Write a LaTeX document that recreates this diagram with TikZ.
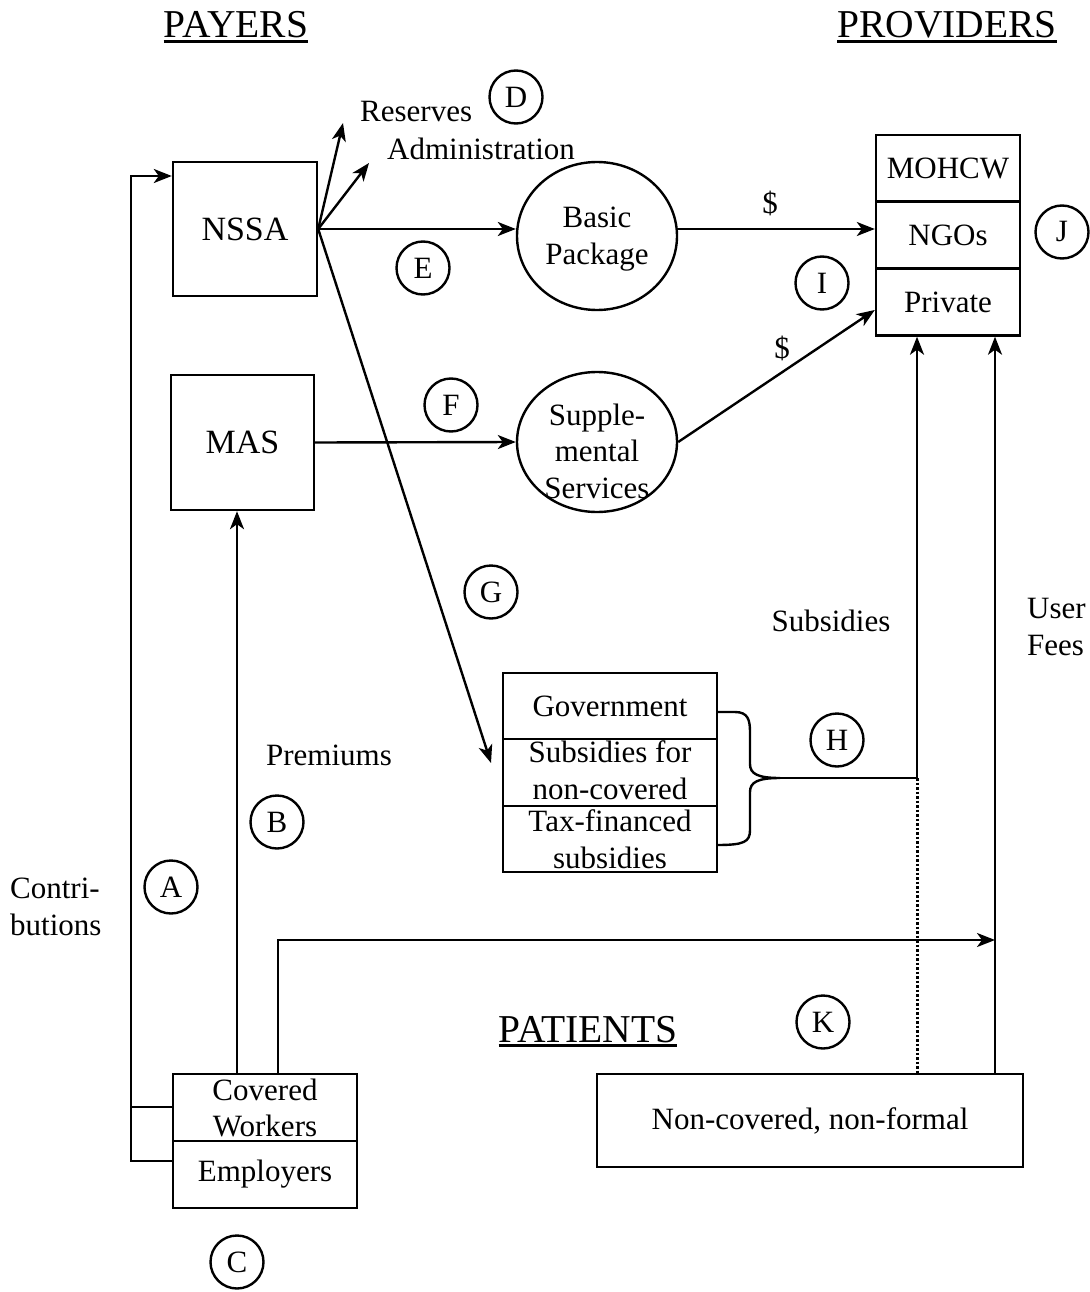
\documentclass[tikz,border=0pt]{standalone}
\usepackage{fontspec}
\setmainfont{Liberation Serif}
\usetikzlibrary{arrows.meta,calc,shapes.geometric}
\begin{document}
\begin{tikzpicture}[x=1pt,y=-1pt,
  lw/.style={line width=2.4pt},
  arr/.style={lw,-{Stealth[length=18pt,width=14pt,inset=5pt]}},
  txt/.style={font=\fontsize{31}{36.5}\selectfont, align=center, inner sep=0pt},
  head/.style={font=\fontsize{39.5}{45}\selectfont, inner sep=0pt, anchor=base},
  lbl/.style={circle, draw, lw, minimum size=53pt, inner sep=0pt, font=\fontsize{31}{34}\selectfont},
  cell/.style={draw, lw, inner sep=0pt, font=\fontsize{31}{36.5}\selectfont, align=center},
  bigcell/.style={cell, font=\fontsize{34}{40}\selectfont},
  oval/.style={ellipse, draw, lw, inner sep=0pt, minimum width=160pt},
  dots/.style={line width=3pt, dash pattern=on 2.5pt off 2pt},
]
\useasboundingbox (0,0) rectangle (1089,1292);

% headings
\node[head] (payers) at (236,38) {PAYERS};
\draw[lw] ($(payers.base west)+(0,3.5)$) -- ($(payers.base east)+(0,3.5)$);
\node[head] (providers) at (947,38) {PROVIDERS};
\draw[lw] ($(providers.base west)+(0,3.5)$) -- ($(providers.base east)+(0,3.5)$);
\node[head] (patients) at (588,1042) {PATIENTS};
\draw[lw] ($(patients.base west)+(0,3.5)$) -- ($(patients.base east)+(0,3.5)$);

% payer boxes
\node[bigcell, minimum width=144pt, minimum height=134pt] (nssa) at (245,229) {NSSA};
\node[bigcell, minimum width=143pt, minimum height=135pt] (mas) at (242.5,442.5) {MAS};

% ovals
\node[oval, minimum height=148pt] (basic) at (597,236) {};
\node[txt] (basicT) at (597,239) {Basic\\Package};
\node[oval, minimum height=140pt] (supp) at (597,442) {};
\node[txt] (suppT) at (597,451) {Supple-\\mental\\Services};

% providers
\node[cell, minimum width=144pt, minimum height=67pt] (mohcw) at (948,168.5) {MOHCW};
\node[cell, minimum width=144pt, minimum height=67pt] (ngos) at (948,235) {NGOs};
\node[cell, minimum width=144pt, minimum height=67pt] (priv) at (948,302) {Private};

% government stack
\node[cell, minimum width=214pt, minimum height=66pt] (gov) at (610,706) {Government};
\node[cell, minimum width=214pt, minimum height=67pt] (subs) at (610,772.5) {};
\node[txt] (subsT) at (610,770) {Subsidies for\\non-covered};
\node[cell, minimum width=214pt, minimum height=66pt] (tax) at (610,839) {};
\node[txt] (taxT) at (610,839) {Tax-financed\\subsidies};

% covered workers / employers
\node[cell, minimum width=184pt, minimum height=67pt] (cov) at (265,1107.5) {};
\node[txt] (covT) at (265,1108) {Covered\\Workers};
\node[cell, minimum width=184pt, minimum height=67pt] (emp) at (265,1174.5) {Employers};

% non-covered
\node[cell, minimum width=426pt, minimum height=93pt] (noncov) at (810,1120.5) {Non-covered, non-formal};

% text labels
\node[txt, anchor=base west] (resT) at (360,122) {Reserves};
\node[txt, anchor=base west] (admT) at (387,160) {Administration};
\node[txt] (d1) at (770,203) {\$};
\node[txt] (d2) at (782,348) {\$};
\node[txt] (subsL) at (831,621) {Subsidies};
\node[txt, anchor=west, align=left] (feesL) at (1027,627) {User\\Fees};
\node[txt] (premL) at (329,755) {Premiums};
\node[txt, anchor=west, align=left] (contL) at (10,907) {Contri-\\butions};

% circled letters
\node[lbl] (A) at (171,887) {A};
\node[lbl] (B) at (277,822) {B};
\node[lbl] (C) at (237,1262) {C};
\node[lbl] (D) at (516,97) {D};
\node[lbl] (E) at (423,268) {E};
\node[lbl] (F) at (451,405) {F};
\node[lbl] (G) at (491,592) {G};
\node[lbl] (H) at (837,740) {H};
\node[lbl] (I) at (822,283) {I};
\node[lbl] (J) at (1062,232) {J};
\node[lbl] (K) at (823,1022) {K};

% coordinates
\coordinate (rs) at (343,123);
\coordinate (ad) at (369,163);
\coordinate (gt) at (491,763);
\coordinate (cL) at (131,1161);
\coordinate (cT) at (131,176);
\coordinate (cB) at (131,1107);
\coordinate (pmx) at (237,0);
\coordinate (hx) at (278,940);
\coordinate (uf) at (995,940);
\coordinate (hj) at (917,778);
\coordinate (bt) at (780,778);

% NSSA outflows
\draw[arr] (nssa.east) -- (rs);
\draw[arr] (nssa.east) -- (ad);
\draw[arr] (nssa.east) -- (nssa.east -| basic.west);
\draw[arr] (nssa.east) -- (gt);
\draw[arr] (mas.east) -- (supp.west);

% to providers
\draw[arr] (nssa.east -| basic.east) -- (nssa.east -| ngos.west);
\draw[arr] (supp.east) -- ($(priv.west)+(0,8)$);

% contributions
\draw[arr] (emp.west |- cL) -- (cL) -- (cT) -- (nssa.west |- cT);
\draw[lw] (cB) -- (cov.west |- cB);

% premiums
\draw[arr] (cov.north -| pmx) -- (mas.south -| pmx);

% covered workers to user fees
\draw[arr] (cov.north -| hx) -- (hx) -- (uf);

% user fees
\draw[arr] (noncov.north -| uf) -- (priv.south -| uf);

% brace and subsidies
\draw[lw] (717,712) -- (735,712) .. controls (748,712) and (750,720) .. (750,732)
  -- (750,764) .. controls (750,774) and (758,778) .. (bt)
  .. controls (758,778) and (750,782) .. (750,792)
  -- (750,830) .. controls (750,842) and (744,845) .. (717,845);
\draw[arr] (bt) -- (hj) -- (priv.south -| hj);
\draw[dots] (hj) -- (noncov.north -| hj);

\end{tikzpicture}
\end{document}
